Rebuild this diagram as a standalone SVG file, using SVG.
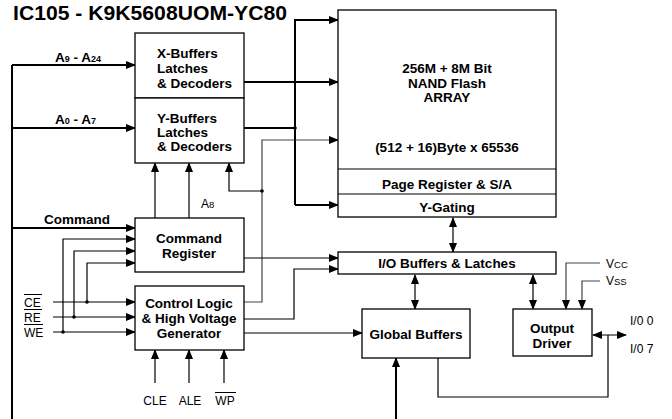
<svg xmlns="http://www.w3.org/2000/svg" width="672" height="419" viewBox="0 0 672 419">
<defs>
<marker id="ah" markerUnits="userSpaceOnUse" markerWidth="10" markerHeight="8" refX="9" refY="4" orient="auto-start-reverse"><path d="M0,0 L10,4 L0,8 z" fill="#000"/></marker>
<style>
.box{fill:#fff;stroke:#000;stroke-width:1.3}
.b{font-family:"Liberation Sans",Arial,sans-serif;font-weight:bold;font-size:13.5px;fill:#000}
.n{font-family:"Liberation Sans",Arial,sans-serif;font-size:12px;fill:#000}
.c{text-anchor:middle}
.th{fill:none;stroke:#000;stroke-width:2}
.tn{fill:none;stroke:#000;stroke-width:1.2}
.g{fill:none;stroke:#444;stroke-width:1.2}
.a{marker-end:url(#ah)}
.aa{marker-end:url(#ah);marker-start:url(#ah)}
.ov{stroke:#000;stroke-width:1}
</style>
</defs>
<rect width="672" height="419" fill="#fff"/>
<text x="13" y="20" textLength="274" lengthAdjust="spacingAndGlyphs" style="font-family:'Liberation Sans',Arial,sans-serif;font-weight:bold;font-size:20px">IC105 - K9K5608UOM-YC80</text>

<g id="connectors">
<path class="th" d="M12,419 V65"/>
<path class="th a" d="M12,65 H135"/>
<path class="th a" d="M12,128 H135"/>
<path class="th a" d="M12,228 H135"/>
<path class="tn a" d="M63,332 V239 H135"/>
<path class="tn a" d="M74,317 V251 H135"/>
<path class="tn a" d="M87,302 V263 H135"/>
<path class="tn a" d="M53,302 H135"/>
<path class="tn a" d="M53,317 H135"/>
<path class="tn a" d="M53,332 H135"/>
<circle cx="63" cy="332" r="1.8"/>
<circle cx="74" cy="317" r="1.8"/>
<circle cx="87" cy="302" r="1.8"/>
<path class="tn a" d="M155,383 V350"/>
<path class="tn a" d="M189,383 V350"/>
<path class="tn a" d="M224,383 V350"/>
<path class="tn a" d="M155,218 V163"/>
<path class="tn a" d="M189,218 V163"/>
<path class="tn a" d="M262,191 H229 V163"/>
<path class="g a" d="M244,302 H262 V140 H338"/>
<circle cx="262" cy="191" r="1.8"/>
<path class="th a" d="M244,82 H338"/>
<path class="th" d="M244,128 H295"/>
<circle cx="295" cy="128" r="1.8"/>
<path class="th a" d="M295,205 V20 H338"/>
<path class="th a" d="M295,205 H338"/>
<path class="tn a" d="M244,258 H338"/>
<path class="tn a" d="M244,319 H294 V269 H338"/>
<path class="tn a" d="M244,333 H362"/>
<path class="tn aa" d="M453,218 V252"/>
<path class="tn aa" d="M415,275 V309"/>
<path class="tn aa" d="M533,275 V309"/>
<path class="g a" d="M600,263 H566 V309"/>
<path class="g a" d="M600,281 H582 V309"/>
<path class="tn aa" d="M593,335 H626"/>
<path class="tn" d="M608,335 V397 H438 V358"/>
<path class="th a" d="M396,419 V358"/>
</g>

<g id="labels">
<text class="b" x="55" y="62" font-size="12.5">A<tspan font-size="9">9</tspan> - A<tspan font-size="9">24</tspan></text>
<text class="b" x="55" y="124" font-size="12.5">A<tspan font-size="9">0</tspan> - A<tspan font-size="9">7</tspan></text>
<text class="b" x="44" y="224">Command</text>
<text class="n" x="201" y="208" font-size="13">A<tspan font-size="9.5">8</tspan></text>
<text class="n" x="24" y="307">CE</text><path class="ov" d="M24,294.5 H42"/>
<text class="n" x="24" y="322">RE</text><path class="ov" d="M24,309.5 H42"/>
<text class="n" x="24" y="337">WE</text><path class="ov" d="M24,324.5 H43"/>
<text class="n c" x="155" y="405">CLE</text>
<text class="n c" x="190" y="405">ALE</text>
<text class="n c" x="225" y="405">WP</text><path class="ov" d="M215,392.5 H236"/>
<text class="n" x="606" y="268">V<tspan font-size="9.5">CC</tspan></text>
<text class="n" x="606" y="285">V<tspan font-size="9.5">SS</tspan></text>
<text class="n" x="630" y="325">I/0 0</text>
<text class="n" x="630" y="353">I/0 7</text>
</g>

<g id="xbuf">
<rect class="box" x="135" y="33" width="109" height="65"/>
<text class="b" x="157" y="58">X-Buffers</text>
<text class="b" x="157" y="73">Latches</text>
<text class="b" x="157" y="88">&amp; Decoders</text>
</g>
<g id="ybuf">
<rect class="box" x="135" y="98" width="109" height="65"/>
<text class="b" x="157" y="123">Y-Buffers</text>
<text class="b" x="157" y="137">Latches</text>
<text class="b" x="157" y="151">&amp; Decoders</text>
</g>
<g id="cmdreg">
<rect class="box" x="135" y="218" width="109" height="54"/>
<text class="b c" x="189" y="243">Command</text>
<text class="b c" x="189" y="258">Register</text>
</g>
<g id="ctrl">
<rect class="box" x="135" y="286" width="109" height="64"/>
<text class="b c" x="189" y="308">Control Logic</text>
<text class="b c" x="189" y="323">&amp; High Voltage</text>
<text class="b c" x="189" y="338">Generator</text>
</g>
<g id="array">
<rect class="box" x="338" y="10" width="218" height="207"/>
<path class="tn" d="M338,169 H556 M338,194 H556"/>
<text class="b c" x="447" y="73">256M + 8M Bit</text>
<text class="b c" x="447" y="88">NAND Flash</text>
<text class="b c" x="447" y="102">ARRAY</text>
<text class="b c" x="447" y="152">(512 + 16)Byte x 65536</text>
<text class="b c" x="447" y="189">Page Register &amp; S/A</text>
<text class="b c" x="447" y="212">Y-Gating</text>
</g>
<g id="iobuf">
<rect class="box" x="338" y="252" width="218" height="22"/>
<text class="b c" x="447" y="268">I/O Buffers &amp; Latches</text>
</g>
<g id="global">
<rect class="box" x="362" y="309" width="108" height="49"/>
<text class="b c" x="416" y="339">Global Buffers</text>
</g>
<g id="outdrv">
<rect class="box" x="513" y="309" width="79" height="47"/>
<text class="b c" x="552" y="333">Output</text>
<text class="b c" x="552" y="348">Driver</text>
</g>
</svg>
